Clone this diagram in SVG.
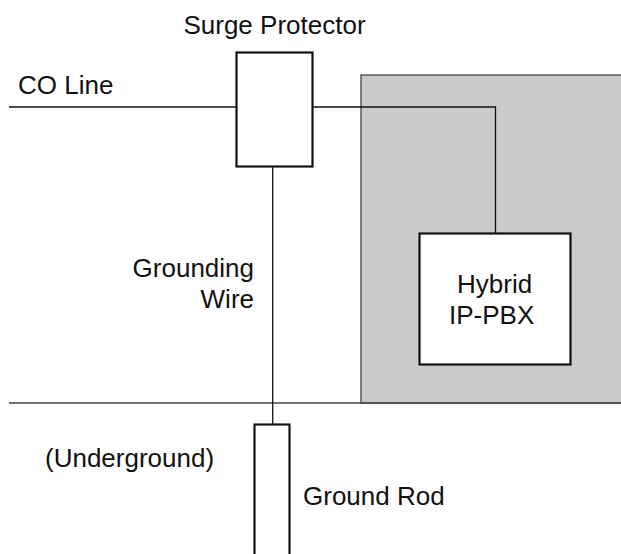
<svg xmlns="http://www.w3.org/2000/svg" width="621" height="554" viewBox="0 0 621 554">
<style>
text{font-family:"Liberation Sans",Arial,sans-serif;font-size:26px;fill:#111}
.box{fill:#fff;stroke:#111;stroke-width:2.2}
.wire{fill:none;stroke:#111;stroke-width:1.3}
</style>
<rect width="621" height="554" fill="#fff"/>
<g id="building">
<rect x="361" y="75" width="262" height="328" fill="#cbcbcb" stroke="#444" stroke-width="1.3"/>
</g>
<g id="ground-surface">
<line x1="9" y1="403" x2="621" y2="403" stroke="#444" stroke-width="1.6"/>
<text x="45" y="467">(Underground)</text>
</g>
<g id="connectors">
<line class="wire" x1="9" y1="107" x2="236" y2="107"/>
<polyline class="wire" points="312,107 495.5,107 495.5,233"/>
<line class="wire" x1="272.7" y1="167" x2="272.7" y2="424"/>
</g>
<g id="co-line">
<text x="18" y="94">CO Line</text>
</g>
<g id="surge-protector">
<rect class="box" x="236.5" y="52.5" width="76" height="114"/>
<text x="274.5" y="34" text-anchor="middle">Surge Protector</text>
</g>
<g id="grounding-wire">
<text x="254" y="277" text-anchor="end">Grounding</text>
<text x="254" y="308" text-anchor="end">Wire</text>
</g>
<g id="pbx">
<rect class="box" x="419.5" y="233.5" width="151" height="131"/>
<text x="457" y="293">Hybrid</text>
<text x="449" y="324">IP-PBX</text>
</g>
<g id="ground-rod">
<rect class="box" x="254.5" y="424.5" width="35" height="140"/>
<text x="303" y="505">Ground Rod</text>
</g>
</svg>
